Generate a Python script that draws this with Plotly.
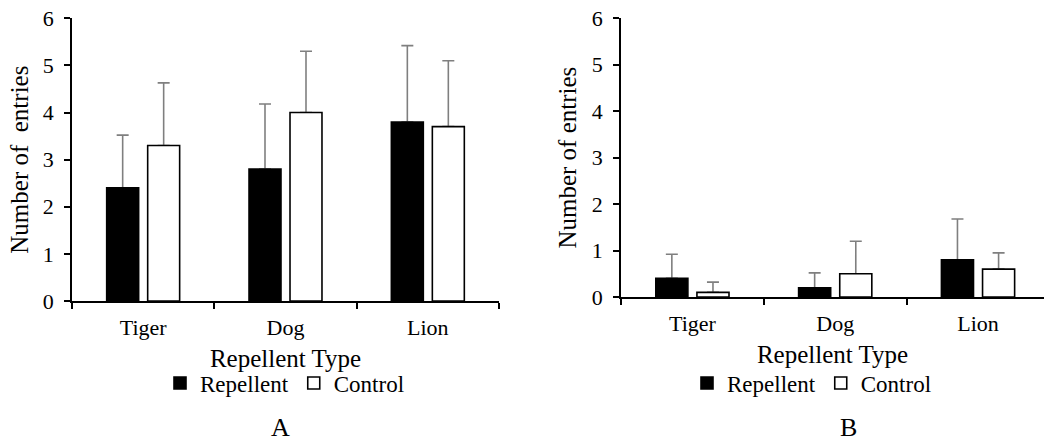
import plotly.graph_objects as go

categories = ["Tiger", "Dog", "Lion"]
a_repellent = [2.4, 2.8, 3.8]
a_repellent_err = [1.12, 1.38, 1.62]
a_control = [3.3, 4.0, 3.7]
a_control_err = [1.33, 1.3, 1.4]
b_repellent = [0.4, 0.2, 0.8]
b_repellent_err = [0.52, 0.32, 0.88]
b_control = [0.1, 0.5, 0.6]
b_control_err = [0.22, 0.7, 0.35]
y_ticks = [0, 1, 2, 3, 4, 5, 6]

FONT = "Liberation Serif, Times New Roman, serif"
ERR = "#7f7f7f"


def err_trace(y, err, group, xa, ya):
    # transparent bar carrying only the upper error bar; drawn beneath the visible bar
    return go.Bar(
        x=categories, y=y, xaxis=xa, yaxis=ya, offsetgroup=group, showlegend=False,
        hoverinfo="skip", marker=dict(color="rgba(0,0,0,0)", line=dict(width=0)),
        error_y=dict(type="data", array=err, symmetric=False, arrayminus=[0] * len(err),
                     color=ERR, thickness=1.6, width=6),
    )


def bar(name, y, fill, group, xa, ya, legend):
    return go.Bar(
        name=name, x=categories, y=y, xaxis=xa, yaxis=ya, legend=legend, offsetgroup=group,
        marker=dict(color=fill, line=dict(color="black", width=1.6)),
    )


fig = go.Figure()
fig.add_trace(err_trace(a_repellent, a_repellent_err, "r", "x", "y"))
fig.add_trace(err_trace(a_control, a_control_err, "c", "x", "y"))
fig.add_trace(bar("Repellent", a_repellent, "black", "r", "x", "y", "legend"))
fig.add_trace(bar("Control", a_control, "white", "c", "x", "y", "legend"))
fig.add_trace(err_trace(b_repellent, b_repellent_err, "r", "x2", "y2"))
fig.add_trace(err_trace(b_control, b_control_err, "c", "x2", "y2"))
fig.add_trace(bar("Repellent", b_repellent, "black", "r", "x2", "y2", "legend2"))
fig.add_trace(bar("Control", b_control, "white", "c", "x2", "y2", "legend2"))

W, H = 1044, 445

xcommon = dict(type="category", showline=True, linecolor="black", linewidth=1.5,
               ticks="outside", tickson="boundaries", ticklen=6, tickcolor="black", tickwidth=1.5,
               tickfont=dict(family=FONT, size=22, color="black"), showgrid=False, zeroline=False,
               title=dict(text="Repellent Type", font=dict(family=FONT, size=25, color="black"), standoff=10),
               ticklabelstandoff=6)
ycommon = dict(range=[0, 6], tickvals=y_ticks, showline=True, linecolor="black", linewidth=1.5,
               ticks="outside", ticklen=6, tickcolor="black", tickwidth=1.5,
               tickfont=dict(family=FONT, size=22, color="black"), showgrid=False, zeroline=False,
               ticklabelstandoff=6)

fig.update_layout(
    width=W, height=H, margin=dict(l=0, r=0, t=0, b=0, autoexpand=False),
    paper_bgcolor="white", plot_bgcolor="white",
    barmode="group", bargap=0.424, bargroupgap=0.22,
    font=dict(family=FONT, color="black"),
    xaxis=dict(xcommon, domain=[72 / W, 499 / W], range=[-0.5, 2.5], anchor="y"),
    yaxis=dict(ycommon, domain=[(H - 301) / H, (H - 18.3) / H], anchor="x",
               title=dict(text="Number of\u00a0 entries", font=dict(family=FONT, size=25, color="black"), standoff=7)),
    xaxis2=dict(xcommon, domain=[621 / W, 1.0], range=[-0.5, 2.462], anchor="y2"),
    yaxis2=dict(ycommon, domain=[(H - 297) / H, (H - 18.3) / H], anchor="x2",
                title=dict(text="Number of entries", font=dict(family=FONT, size=25, color="black"), standoff=8)),
    legend=dict(orientation="h", x=285 / W, xanchor="center", y=(H - 383) / H, yanchor="middle",
                font=dict(family=FONT, size=23, color="black"), itemwidth=30, bgcolor="rgba(0,0,0,0)"),
    legend2=dict(orientation="h", x=812 / W, xanchor="center", y=(H - 383) / H, yanchor="middle",
                 font=dict(family=FONT, size=23, color="black"), itemwidth=30, bgcolor="rgba(0,0,0,0)"),
    annotations=[
        dict(text="A", x=280 / W, y=(H - 427) / H, xref="paper", yref="paper", showarrow=False,
             font=dict(family=FONT, size=26, color="black"), xanchor="center", yanchor="middle"),
        dict(text="B", x=848 / W, y=(H - 427) / H, xref="paper", yref="paper", showarrow=False,
             font=dict(family=FONT, size=26, color="black"), xanchor="center", yanchor="middle"),
    ],
)

fig.write_html("out.html")
